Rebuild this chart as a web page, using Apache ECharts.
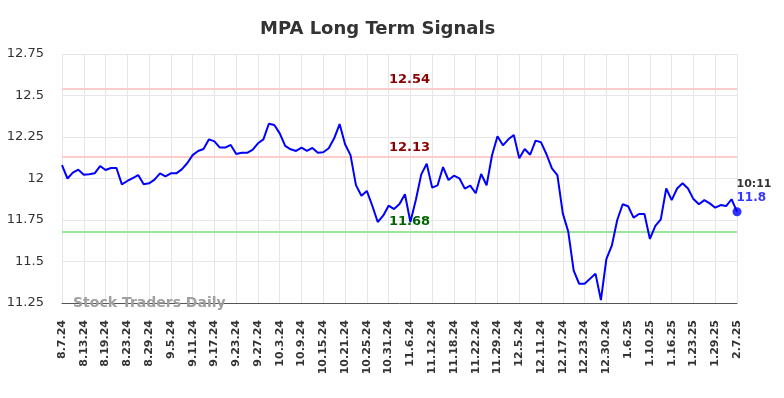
<!DOCTYPE html>
<html>
<head>
<meta charset="utf-8">
<script src="https://cdn.jsdelivr.net/npm/echarts@6/dist/echarts.min.js"></script>
<style>
html, body { margin: 0; padding: 0; background: #fff; }
#chart { width: 784px; height: 398px; }
</style>
</head>
<body>
<div id="chart"></div>
<script>
// tick labels, one every 4 trading days
var xTickLabels = ['8.7.24','8.13.24','8.19.24','8.23.24','8.29.24','9.5.24','9.11.24','9.17.24',
  '9.23.24','9.27.24','10.3.24','10.9.24','10.15.24','10.21.24','10.25.24','10.31.24',
  '11.6.24','11.12.24','11.18.24','11.22.24','11.29.24','12.5.24','12.11.24','12.17.24',
  '12.23.24','12.30.24','1.6.25','1.10.25','1.16.25','1.23.25','1.29.25','2.7.25'];

// daily signal values
var signals = [
  12.08, 12.00, 12.035, 12.053, 12.023, 12.025, 12.031, 12.075, 12.051, 12.063,
  12.063, 11.965, 11.985, 12.003, 12.021, 11.965, 11.971, 11.993, 12.031, 12.013,
  12.031, 12.031, 12.055, 12.092, 12.141, 12.166, 12.178, 12.236, 12.224, 12.186,
  12.186, 12.202, 12.148, 12.155, 12.155, 12.172, 12.212, 12.236, 12.33, 12.322,
  12.272, 12.196, 12.176, 12.166, 12.186, 12.167, 12.184, 12.155, 12.158, 12.182,
  12.242, 12.328, 12.206, 12.141, 11.96, 11.896, 11.925, 11.836, 11.738, 11.776,
  11.836, 11.816, 11.846, 11.905, 11.738, 11.87, 12.025, 12.089, 11.945, 11.959,
  12.069, 11.991, 12.017, 12.001, 11.939, 11.957, 11.911, 12.027, 11.959, 12.14,
  12.254, 12.2, 12.236, 12.262, 12.122, 12.178, 12.143, 12.228, 12.218, 12.146,
  12.061, 12.021, 11.79, 11.68, 11.445, 11.366, 11.366, 11.396, 11.427, 11.268,
  11.515, 11.595, 11.75, 11.845, 11.833, 11.764, 11.786, 11.786, 11.636, 11.714,
  11.754, 11.94, 11.87, 11.94, 11.971, 11.94, 11.876, 11.845, 11.87, 11.85,
  11.824, 11.84, 11.834, 11.875, 11.8
];

var upperLevel = 12.54;
var midLevel = 12.13;
var lowerLevel = 11.68;
var lastTime = '10:11';
var yTicks = [11.25, 12.75, 0.25]; // min, max, interval

var categories = signals.map(function (v, i) {
  return i % 4 === 0 ? xTickLabels[i / 4] : '';
});
var lastIdx = signals.length - 1;

var chart = echarts.init(document.getElementById('chart'));
chart.setOption({
  animation: false,
  title: {
    text: 'MPA Long Term Signals',
    left: 255,
    top: 15,
    textStyle: { fontFamily: 'DejaVu Sans', fontWeight: 'bold', fontSize: 18, color: '#333' }
  },
  grid: { left: 62, right: 47, top: 54, bottom: 95 },
  xAxis: {
    type: 'category',
    data: categories,
    boundaryGap: false,
    axisLine: { lineStyle: { color: '#555', width: 1 } },
    axisTick: { show: false },
    axisLabel: {
      interval: 0,
      rotate: 90,
      margin: 17,
      fontFamily: 'DejaVu Sans',
      fontWeight: 'bold',
      fontSize: 11,
      color: '#333'
    },
    splitLine: {
      show: true,
      interval: function (i) { return i % 4 === 0; },
      lineStyle: { color: '#e6e6e6', width: 1 }
    }
  },
  yAxis: {
    type: 'value',
    min: yTicks[0],
    max: yTicks[1],
    interval: yTicks[2],
    axisLine: { show: false },
    axisTick: { show: false },
    axisLabel: { margin: 18, fontFamily: 'DejaVu Sans', fontSize: 13, color: '#333' },
    splitLine: { lineStyle: { color: '#e6e6e6', width: 1 } }
  },
  graphic: [{
    type: 'text',
    left: 73,
    top: 296,
    z: 100,
    style: {
      text: 'Stock Traders Daily',
      fill: '#a0a0a0',
      font: 'bold 14px "DejaVu Sans"'
    }
  }],
  series: [
    {
      type: 'line',
      data: signals,
      showSymbol: false,
      lineStyle: { color: '#0000ff', width: 2 },
      itemStyle: { color: '#0000ff' },
      z: 5,
      markLine: {
        silent: true,
        symbol: 'none',
        animation: false,
        label: {
          position: 'insideMiddleTop',
          distance: 3,
          padding: [0, 0, 0, 20],
          fontFamily: 'DejaVu Sans',
          fontWeight: 'bold',
          fontSize: 13,
          formatter: function (p) { return p.value; }
        },
        data: [
          { yAxis: upperLevel, lineStyle: { color: '#ffcccc', width: 2, type: 'solid' }, label: { color: '#8b0000' } },
          { yAxis: midLevel, lineStyle: { color: '#ffcccc', width: 2, type: 'solid' }, label: { color: '#8b0000' } },
          { yAxis: lowerLevel, lineStyle: { color: '#99e699', width: 2, type: 'solid' }, label: { color: '#006400' } }
        ]
      }
    },
    {
      type: 'scatter',
      data: [[lastIdx, signals[lastIdx]]],
      symbolSize: 9,
      itemStyle: { color: '#0000ff' },
      z: 6,
      label: {
        show: true,
        position: [4, -30],
        formatter: function () { return '{t|' + lastTime + '}\n{v|' + signals[lastIdx] + '}'; },
        rich: {
          t: { fontFamily: 'DejaVu Sans', fontWeight: 'bold', fontSize: 11, color: '#000', lineHeight: 14 },
          v: { fontFamily: 'DejaVu Sans', fontWeight: 'bold', fontSize: 12, color: '#0000ff', lineHeight: 14 }
        }
      }
    }
  ]
});
</script>
</body>
</html>
